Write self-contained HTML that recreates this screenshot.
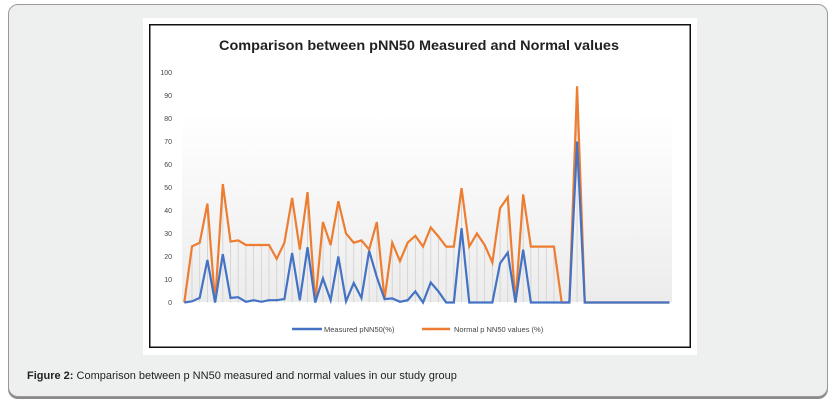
<!DOCTYPE html>
<html><head><meta charset="utf-8"><style>
html,body{margin:0;padding:0;background:#fff;width:838px;height:406px;overflow:hidden;font-family:"Liberation Sans",sans-serif}
#card{position:absolute;left:8px;top:4px;width:818px;height:391px;background:#eef0f0;border:1px solid #9a9a9a;border-radius:10px;box-shadow:0 2px 0 #8a8a8a}
#caption{position:absolute;left:27px;top:370px;font-size:11px;color:#222}
</style></head><body>
<div id="card"></div>
<svg width="838" height="406" style="position:absolute;left:0;top:0">
<defs><linearGradient id="g" x1="0" y1="0" x2="0" y2="1"><stop offset="0" stop-color="#fff"/><stop offset="1" stop-color="#ececec"/></linearGradient></defs>
<rect x="143" y="18" width="554" height="337" fill="#fff"/>
<rect x="149.75" y="24.75" width="540.5" height="322.5" fill="none" stroke="#111" stroke-width="1.5"/>
<rect x="182" y="114" width="490" height="188" fill="url(#g)"/>
<text x="419" y="50" text-anchor="middle" font-size="14" font-weight="bold" fill="#222" textLength="400" lengthAdjust="spacingAndGlyphs">Comparison between pNN50  Measured and Normal values</text>
<g id="yaxis"></g><g id="drops"></g><g id="lines"></g>
<g>
<line x1="292" y1="329" x2="322" y2="329" stroke="#4472c4" stroke-width="2.5"/>
<text x="324" y="332" font-size="7.5" fill="#444">Measured pNN50(%)</text>
<line x1="422" y1="329" x2="450" y2="329" stroke="#ed7d31" stroke-width="2.5"/>
<text x="454" y="332" font-size="7.5" fill="#444">Normal p NN50 values (%)</text>
</g>
</svg>
<div id="caption"><b>Figure 2:</b> Comparison between p NN50 measured and normal values in our study group</div>
<script>
const yTicks=[0,10,20,30,40,50,60,70,80,90,100];
const measured=[0,0.5,2,18.5,0,21,2,2.3,0.3,1,0.3,1,1,1.5,21.5,1,24,0,10.5,1,20,0.5,8.5,2,22.5,11,1.5,1.8,0.3,1,4.8,0,8.7,4.8,0,0,32.3,0,0,0,0,17,21.7,0,23,0,0,0,0,0,0,70,0,0,0,0,0,0,0,0,0,0,0,0];
const normal=[0,24.4,26,43,0,51.5,26.5,27,25,25,25,25,19,26,45.5,23,48,0,35,25,44,30,26,27,23,35,1.5,26,18,26,29,24.3,32.6,28.7,24.3,24.3,49.7,24.3,30,25,17.4,41,45.8,0,47,24.3,24.3,24.3,24.3,0,0,94,0,0,0,0,0,0,0,0,0,0,0,0];
const NS='http://www.w3.org/2000/svg';
const x0=184.3,dx=(669.5-184.3)/(normal.length-1);
const X=i=>x0+i*dx, Y=v=>302.5-v*2.3;
function mk(t,a){const e=document.createElementNS(NS,t);for(const k in a)e.setAttribute(k,a[k]);return e;}
const ya=document.getElementById('yaxis');
yTicks.forEach(v=>{const t=mk('text',{x:172,y:Y(v)+2.5,'text-anchor':'end','font-size':'7',fill:'#444'});t.textContent=v;


ya.appendChild(t);});
const dg=document.getElementById('drops');
normal.forEach((v,i)=>{const l=mk('line',{x1:X(i),x2:X(i),y1:Y(0),y2:Y(v),stroke:'#d0d0d0','stroke-width':0.8});


dg.appendChild(l);});
const lg=document.getElementById('lines');
[[normal,'#ed7d31','normal-pnn50-line'],[measured,'#4472c4','measured-pnn50-line']].forEach(([d,c,n])=>{
const p=mk('polyline',{points:d.map((v,i)=>X(i)+','+Y(v)).join(' '),fill:'none',stroke:c,'stroke-width':2.2,'stroke-linejoin':'miter'});


lg.appendChild(p);});
</script>
</body></html>
